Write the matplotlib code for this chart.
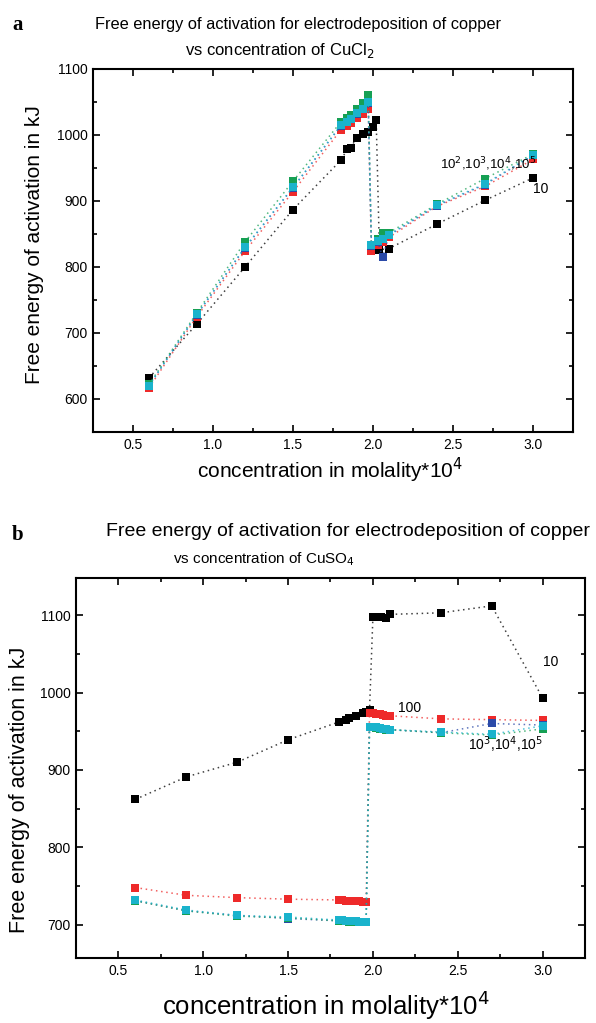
import matplotlib
matplotlib.use("Agg")
import matplotlib.pyplot as plt
from matplotlib.ticker import MultipleLocator

plt.rcParams['font.family'] = ['Liberation Sans', 'DejaVu Sans']

# ---- panel a: CuCl2 ----
a_black_x = [0.6, 0.9, 1.2, 1.5, 1.8, 1.84, 1.86, 1.9, 1.94, 1.97, 2.0, 2.02, 2.04, 2.1, 2.4, 2.7, 3.0]
a_black_y = [632, 714, 800, 887, 962, 979, 981, 996, 1002, 1005, 1012, 1022, 826, 828, 865, 901, 935]

a_col_x = [0.6, 0.9, 1.2, 1.5, 1.8, 1.84, 1.86, 1.9, 1.94, 1.97, 1.99, 2.03, 2.06, 2.1, 2.4, 2.7, 3.0]
a_red_y = [617, 725, 824, 914, 1008, 1014, 1018, 1026, 1032, 1040, 825, 834, 838, 845, 892, 922, 963]
a_blue_y = [620, 728, 829, 920, 1014, 1019, 1024, 1032, 1039, 1049, 832, 838, 815, 848, 893, 925, 969]
a_green_y = [622, 731, 838, 930, 1020, 1026, 1031, 1040, 1048, 1060, 834, 842, 851, 852, 895, 934, 971]
a_cyan_y = [620, 729, 830, 921, 1015, 1020, 1025, 1033, 1040, 1050, 833, 840, 843, 849, 894, 926, 970]

# ---- panel b: CuSO4 ----
b_black_x = [0.6, 0.9, 1.2, 1.5, 1.8, 1.84, 1.86, 1.9, 1.94, 1.96, 1.98, 2.0, 2.05, 2.08, 2.1, 2.4, 2.7, 3.0]
b_black_y = [862, 891, 910, 939, 962, 965, 967, 970, 973, 975, 978, 1098, 1097, 1096, 1101, 1103, 1112, 993]

b_col_x = [0.6, 0.9, 1.2, 1.5, 1.8, 1.82, 1.84, 1.86, 1.88, 1.9, 1.92, 1.94, 1.96,
           1.98, 2.0, 2.02, 2.04, 2.06, 2.08, 2.1, 2.4, 2.7, 3.0]
b_red_y = [748, 738, 735, 733, 732, 732, 731, 731, 731, 731, 731, 730, 730,
           974, 973, 972, 972, 971, 970, 970, 966, 965, 964]
b_blue_y = [731, 718, 712, 708, 705, 705, 705, 704, 704, 704, 704, 704, 704,
            955, 955, 954, 954, 953, 953, 952, 948, 960, 958]
b_green_y = [731, 718, 711, 709, 705, 705, 705, 704, 704, 704, 704, 704, 704,
             955, 955, 954, 953, 953, 952, 952, 948, 945, 953]
b_cyan_y = [732, 719, 712, 710, 706, 706, 705, 705, 705, 705, 704, 704, 704,
            956, 955, 955, 954, 953, 953, 952, 949, 946, 957]

BLACK = '#000000'
RED = '#ee2a2a'
BLUE = '#2b4aa8'
GREEN = '#16a054'
CYAN = '#1ab3cc'

TITLE1 = 'Free energy of activation for electrodeposition of copper'
XLABEL = 'concentration in molality*10$^4$'
YLABEL = 'Free energy of activation in kJ'

W, H = 596, 1023


def series(ax, x, y, color, ms):
    ax.plot(x, y, linestyle=(0, (1, 2.4)), lw=1.1, color=color, alpha=0.75)
    ax.plot(x, y, linestyle='none', marker='s', ms=ms, color=color,
            markeredgewidth=0)


def style_axes(ax):
    ax.set_xlim(0.25, 3.25)
    ax.xaxis.set_minor_locator(MultipleLocator(0.25))
    ax.yaxis.set_minor_locator(MultipleLocator(50))
    ax.tick_params(which='both', direction='in', top=True, right=True,
                   labelsize=10, width=1.2, pad=4)
    ax.tick_params(which='major', length=5)
    ax.tick_params(which='minor', length=3)
    for s in ax.spines.values():
        s.set_linewidth(1.5)
    ax.set_xticks([0.5, 1.0, 1.5, 2.0, 2.5, 3.0])
    ax.set_xticklabels(['0.5', '1.0', '1.5', '2.0', '2.5', '3.0'])


def ftext(x, y, s, **kw):
    # place text in pixel coordinates measured from top-left
    return fig.text(x / W, 1 - y / H, s, **kw)


fig = plt.figure(figsize=(5.96, 10.23), dpi=100)

# panel a
ax1 = fig.add_axes([93 / W, 1 - 432 / H, 480 / W, 363 / H])
series(ax1, a_black_x, a_black_y, BLACK, 6.2)
series(ax1, a_col_x, a_red_y, RED, 6.2)
series(ax1, a_col_x, a_blue_y, BLUE, 6.2)
series(ax1, a_col_x, a_green_y, GREEN, 6.2)
series(ax1, a_col_x, a_cyan_y, CYAN, 6.2)
ax1.set_ylim(550, 1100)
style_axes(ax1)
ax1.set_yticks([600, 700, 800, 900, 1000, 1100])
ax1.text(2.72, 956, '10$^2$,10$^3$,10$^4$,10$^5$', fontsize=9.5, ha='center', va='center')
ax1.text(3.0, 918, '10', fontsize=10, ha='left', va='center')

ftext(298, 25, TITLE1, fontsize=11.8, ha='center', va='center')
ftext(280, 50, 'vs concentration of CuCl$_2$', fontsize=12, ha='center', va='center')
ftext(12, 25, 'a', fontsize=15, fontweight='bold', family='Liberation Serif',
      ha='left', va='center')
ftext(330, 470, XLABEL, fontsize=15, ha='center', va='center')
ftext(35, 245, YLABEL, fontsize=15, rotation=90, ha='center', va='center')

# panel b
ax2 = fig.add_axes([76 / W, 1 - 958 / H, 509 / W, 380 / H])
series(ax2, b_black_x, b_black_y, BLACK, 5.2)
series(ax2, b_col_x, b_red_y, RED, 5.2)
series(ax2, b_col_x, b_blue_y, BLUE, 5.2)
series(ax2, b_col_x, b_green_y, GREEN, 5.2)
series(ax2, b_col_x, b_cyan_y, CYAN, 5.2)
ax2.set_ylim(657, 1148)
style_axes(ax2)
ax2.set_yticks([700, 800, 900, 1000, 1100])
ax2.text(2.15, 980, '100', fontsize=10, ha='left', va='center')
ax2.text(3.0, 1039, '10', fontsize=10, ha='left', va='center')
ax2.text(2.78, 932, '10$^3$,10$^4$,10$^5$', fontsize=10, ha='center', va='center')

ftext(348, 532, TITLE1, fontsize=14, ha='center', va='center')
ftext(264, 559, 'vs concentration of CuSO$_4$', fontsize=11, ha='center', va='center')
ftext(12, 535, 'b', fontsize=15, fontweight='bold', family='Liberation Serif',
      ha='left', va='center')
ftext(326, 1005, XLABEL, fontsize=18.5, ha='center', va='center')
ftext(20, 790, YLABEL, fontsize=15.5, rotation=90, ha='center', va='center')

fig.savefig('out.png', dpi=100)
